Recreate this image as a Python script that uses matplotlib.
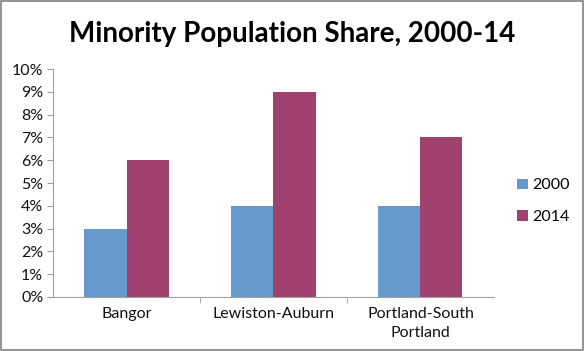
import matplotlib.pyplot as plt
import numpy as np
from matplotlib.ticker import PercentFormatter

plt.rcParams['font.family'] = ['Lato', 'DejaVu Sans']

categories = ["Bangor", "Lewiston-Auburn", "Portland-South\nPortland"]
years = ["2000", "2014"]
share_2000 = [3, 4, 4]
share_2014 = [6, 9, 7]
colors = ["#6699CC", "#A0416F"]

fig = plt.figure(figsize=(5.84, 3.51), dpi=100)
ax = fig.add_axes([0.0908, 0.154, 0.755, 0.649])

x = np.arange(len(categories))
w = 0.286
ax.bar(x - w / 2, share_2000, w, color=colors[0], label=years[0])
ax.bar(x + w / 2, share_2014, w, color=colors[1], label=years[1])

ax.set_xlim(-0.5, len(categories) - 0.5)
ax.set_ylim(0, 10)
ax.set_yticks(range(0, 11))
ax.yaxis.set_major_formatter(PercentFormatter(decimals=0))
ax.set_xticks(x)
ax.set_xticklabels(categories, linespacing=1.5)
ax.set_xticks(np.arange(0.5, len(categories) - 0.5, 1), minor=True)
ax.tick_params(axis='x', which='major', length=0, pad=7, labelsize=11.5, labelcolor='#111111')
ax.tick_params(axis='x', which='minor', length=4, color='#A0A0A0', direction='out')
ax.tick_params(axis='y', length=4, color='#A0A0A0', labelsize=11.5, labelcolor='#111111', pad=3)

for side in ['top', 'right']:
    ax.spines[side].set_visible(False)
for side in ['left', 'bottom']:
    ax.spines[side].set_color('#A0A0A0')

fig.suptitle("Minority Population Share, 2000-14", x=0.5, y=0.94,
             fontsize=20, fontweight='bold', color='#000000')

ax.legend(loc='center left', bbox_to_anchor=(1.02, 0.42), frameon=False,
          handlelength=0.65, handleheight=0.65, handletextpad=0.3,
          fontsize=11.5, labelspacing=1.1)

border = plt.Rectangle((0.002, 0.003), 0.996, 0.994, transform=fig.transFigure,
                       fill=False, edgecolor='#808080', linewidth=1.2)
fig.patches.append(border)

fig.savefig("out.png", dpi=100)
